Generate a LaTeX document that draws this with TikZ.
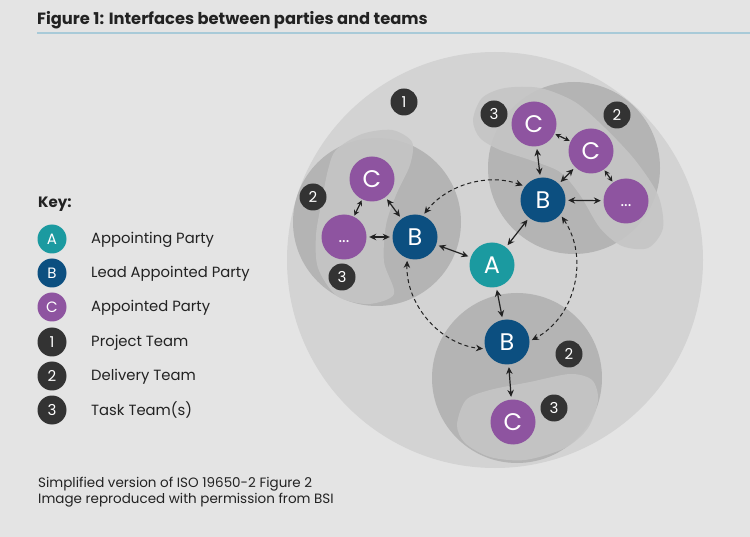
\documentclass[tikz,border=0pt]{standalone}
\usepackage{fontspec}
\setmainfont{Poppins}
\usetikzlibrary{arrows.meta,positioning}

\definecolor{pagegray}{HTML}{E4E4E4}
\definecolor{projectgray}{HTML}{D3D3D3}
\definecolor{deliverygray}{HTML}{B4B4B4}
\definecolor{taskgray}{HTML}{C5C5C5}
\definecolor{appointingteal}{HTML}{1B9AA0}
\definecolor{leadblue}{HTML}{0C4F80}
\definecolor{appointedpurple}{HTML}{8E54A0}
\definecolor{badgedark}{HTML}{333333}
\definecolor{rulecolor}{HTML}{A8CAD8}
\definecolor{inkdark}{HTML}{222222}

\begin{document}
\begin{tikzpicture}[x=1pt,y=-1pt,
  party/.style={circle,minimum size=45pt,inner sep=0pt,text=white,
    font=\fontsize{24}{24}\selectfont},
  appointing/.style={party,fill=appointingteal},
  lead/.style={party,fill=leadblue},
  appointed/.style={party,fill=appointedpurple},
  badge/.style={circle,fill=badgedark,minimum size=27pt,inner sep=0pt,
    text=white,font=\fontsize{15}{15}\selectfont},
  keymark/.style={minimum size=29pt,font=\fontsize{15}{15}\selectfont},
  keytext/.style={anchor=base west,inner sep=0pt,text=inkdark,
    font=\fontsize{14.8}{14.8}\selectfont},
  link/.style={{Stealth[length=7pt,width=6.5pt]}-{Stealth[length=7pt,width=6.5pt]},
    line width=1.2pt,inkdark,shorten <=2.5pt,shorten >=2.5pt},
  tightlink/.style={link,{Stealth[length=5.5pt,width=5.5pt]}-{Stealth[length=5.5pt,width=5.5pt]},
    shorten <=1pt,shorten >=1pt},
  interface/.style={link,line width=1pt,dash pattern=on 4pt off 3pt}]
\useasboundingbox (0,0) rectangle (750,537);
\fill[pagegray] (0,0) rectangle (750,537);
% Title with rule underneath
\node[anchor=base west,inner sep=0pt,text=inkdark,
  font=\bfseries\fontsize{16.3}{16.3}\selectfont] (title) at (37,25)
  {Figure 1: Interfaces between parties and teams};
\draw[rulecolor,line width=1.6pt] (37,33) -- (750,33);
% Project team (1)
\fill[projectgray] (495,260) circle[radius=208];
% Delivery teams (2)
\fill[deliverygray] (377,222) circle[radius=84];
\fill[deliverygray] (574,168) circle[radius=86];
\fill[deliverygray] (517,378) circle[radius=85];
% Task teams (3)
\fill[taskgray,opacity=.9] plot[smooth cycle] coordinates {(336,150) (362,134)
  (392,130) (412,142) (410,165) (396,195) (386,225) (384,262) (394,294)
  (368,304) (337,296) (318,268) (316,235) (322,200) (328,170)};
\fill[taskgray,opacity=.9] plot[smooth cycle] coordinates {(473,120) (482,98)
  (505,88) (540,88) (575,102) (605,128) (635,160) (658,195) (663,228)
  (648,248) (622,246) (600,228) (580,195) (560,172) (530,160) (500,150)
  (480,138)};
\fill[taskgray,opacity=.9] plot[smooth cycle] coordinates {(457,425) (466,400)
  (490,390) (530,382) (570,374) (592,380) (598,400) (588,428) (565,448)
  (525,460) (490,457) (465,443)};
% Parties
\node[appointing] (A) at (492,265) {A};
\node[lead] (lB) at (415,237) {B};
\node[appointed] (lC) at (372,179) {C};
\node[appointed,font=\fontsize{17}{17}\selectfont] (lmore) at (344,237) {\vphantom{C}...};
\node[lead] (tB) at (543,200) {B};
\node[appointed] (tC) at (534,124) {C};
\node[appointed] (tCC) at (591,151) {C};
\node[appointed,font=\fontsize{17}{17}\selectfont] (tmore) at (626,201) {\vphantom{C}...};
\node[lead] (bB) at (507,342) {B};
\node[appointed] (bC) at (513,422) {C};
% Team badges
\node[badge] (one) at (404,102) {1};
\node[badge] (ltwo) at (313,197) {2};
\node[badge] (lthree) at (342,277) {3};
\node[badge] (tthree) at (494,114) {3};
\node[badge] (ttwo) at (617,115) {2};
\node[badge] (btwo) at (569,354) {2};
\node[badge] (bthree) at (554,408) {3};
% Interfaces between lead appointed parties (on a ring round A)
\draw[interface] (lB.70) to[out=52,in=160,looseness=0.95] (tB.143);
\draw[interface] (lB.250) to[out=-92,in=174,looseness=0.98] (bB.198);
\draw[interface] (tB.320) to[out=-56,in=28,looseness=1.02] (bB.2);
% Interfaces inside the teams
\draw[link] (lB) -- (A);
\draw[link] (tB) -- (A);
\draw[link] (A) -- (bB);
\draw[tightlink] (lC) -- (lmore);
\draw[link] (lC) -- (lB);
\draw[link] (lmore) -- (lB);
\draw[link] (tC) -- (tB);
\draw[link] (tCC) -- (tB);
\draw[tightlink] (tC) -- (tCC);
\draw[tightlink] (tCC) -- (tmore);
\draw[link] (tB) -- (tmore);
\draw[link] (bB) -- (bC);
% Key
\node[anchor=base west,inner sep=0pt,text=inkdark,
  font=\bfseries\fontsize{15}{15}\selectfont] (keyhead) at (38,208) {Key:};
\foreach \y/\sty/\sym/\txt [count=\i] in {239/appointing/A/Appointing Party,
    273/lead/B/Lead Appointed Party, 307/appointed/C/Appointed Party,
    342/badge/1/Project Team, 376/badge/2/Delivery Team,
    410/badge/3/Task Team(s)} {
  \node[\sty,keymark] (key\i) at (52,\y) {\sym};
  \node[keytext] (keylabel\i) at (91,{\y+5}) {\txt};
}
% Source note
\node[anchor=base west,inner sep=0pt,align=left,text=inkdark,
  font=\fontsize{13.5}{16}\selectfont] (source) at (38,503)
  {Simplified version of ISO 19650-2 Figure 2\\
   Image reproduced with permission from BSI};
\end{tikzpicture}
\end{document}
